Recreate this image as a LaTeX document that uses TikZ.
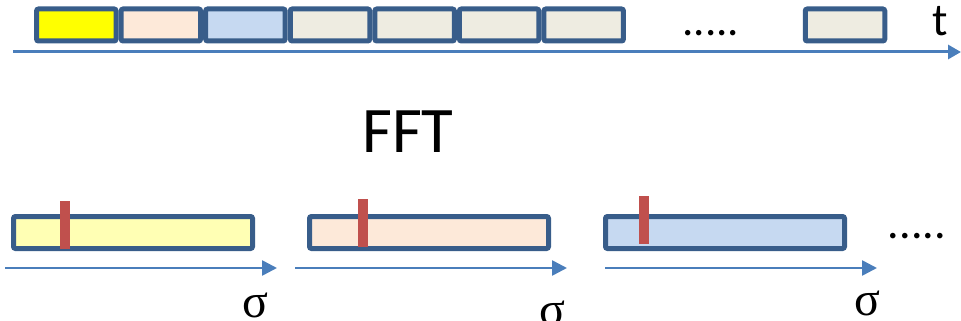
\documentclass[tikz,border=0pt]{standalone}
\usepackage{fontspec}
\setmainfont{Carlito}
\newfontfamily\greekfont{Liberation Serif}
\usetikzlibrary{arrows.meta}
\definecolor{boxborder}{HTML}{385D8A}
\definecolor{axisblue}{HTML}{4A7EBB}
\definecolor{cyel}{HTML}{FFFF00}
\definecolor{clyel}{HTML}{FFFFB4}
\definecolor{cpeach}{HTML}{FDE9D9}
\definecolor{cblue}{HTML}{C6D9F1}
\definecolor{cbeige}{HTML}{EEECE1}
\definecolor{peakred}{HTML}{C0504D}
\tikzset{
  tbox/.style={draw=boxborder, line width=5pt, rounded corners=2pt, minimum width=79.5pt, minimum height=32pt, inner sep=0pt},
  fbox/.style={draw=boxborder, line width=5pt, rounded corners=2pt, minimum width=239pt, minimum height=32pt, inner sep=0pt},
  peak/.style={fill=peakred, draw=none, minimum width=10pt, minimum height=48pt, inner sep=0pt},
  axis/.style={draw=axisblue, line width=3pt, -{Triangle[length=13pt,width=14pt]}},
  faxis/.style={draw=axisblue, line width=2.6pt, -{Triangle[length=15pt,width=15pt]}},
  lbl/.style={inner sep=0pt, anchor=base},
}
\begin{document}
\begin{tikzpicture}[x=1pt,y=-1pt]
\useasboundingbox (0,0) rectangle (961,321);
% top time axis
\coordinate (ta) at (13,52);
\coordinate (tb) at (961,52);
\draw[axis] (ta) -- (tb);
\node[tbox, fill=cyel]   (t1) at (76.3,25) {};
\node[tbox, fill=cpeach] (t2) at (160.9,25) {};
\node[tbox, fill=cblue]  (t3) at (245.4,25) {};
\node[tbox, fill=cbeige] (t4) at (330.0,25) {};
\node[tbox, fill=cbeige] (t5) at (414.6,25) {};
\node[tbox, fill=cbeige] (t6) at (499.1,25) {};
\node[tbox, fill=cbeige] (t7) at (583.7,25) {};
\node[tbox, fill=cbeige] (t8) at (845,25) {};
\node[lbl, font=\fontsize{45}{50}\selectfont] (dots1) at (711,36) {.....};
\node[lbl, font=\fontsize{46}{50}\selectfont] (tl) at (940,36) {t};
% FFT
\node[lbl, font=\fontsize{65}{70}\selectfont] (fft) at (408,152) {FFT};
% spectra
\node[fbox, fill=clyel]  (fa) at (133,232.5) {};
\node[fbox, fill=cpeach] (fb) at (429,232.5) {};
\node[fbox, fill=cblue]  (fc) at (725,232.5) {};
\node[peak] (pa) at (65,225) {};
\node[peak] (pb) at (363,223) {};
\node[peak] (pc) at (644,219.5) {};
\coordinate (a1) at (5,268);  \coordinate (a2) at (277,268);
\coordinate (b1) at (295,268); \coordinate (b2) at (567,268);
\coordinate (c1) at (605,268); \coordinate (c2) at (877,268);
\draw[faxis] (a1) -- (a2);
\draw[faxis] (b1) -- (b2);
\draw[faxis] (c1) -- (c2);
\node[lbl, font=\fontsize{46}{50}\selectfont] (dots2) at (917,238) {.....};
\node[lbl, font=\greekfont\fontsize{48}{50}\selectfont] (sa) at (255,317) {σ};
\node[lbl, font=\greekfont\fontsize{48}{50}\selectfont] (sb) at (552,325) {σ};
\node[lbl, font=\greekfont\fontsize{48}{50}\selectfont] (sc) at (867,315) {σ};
\end{tikzpicture}
\end{document}
